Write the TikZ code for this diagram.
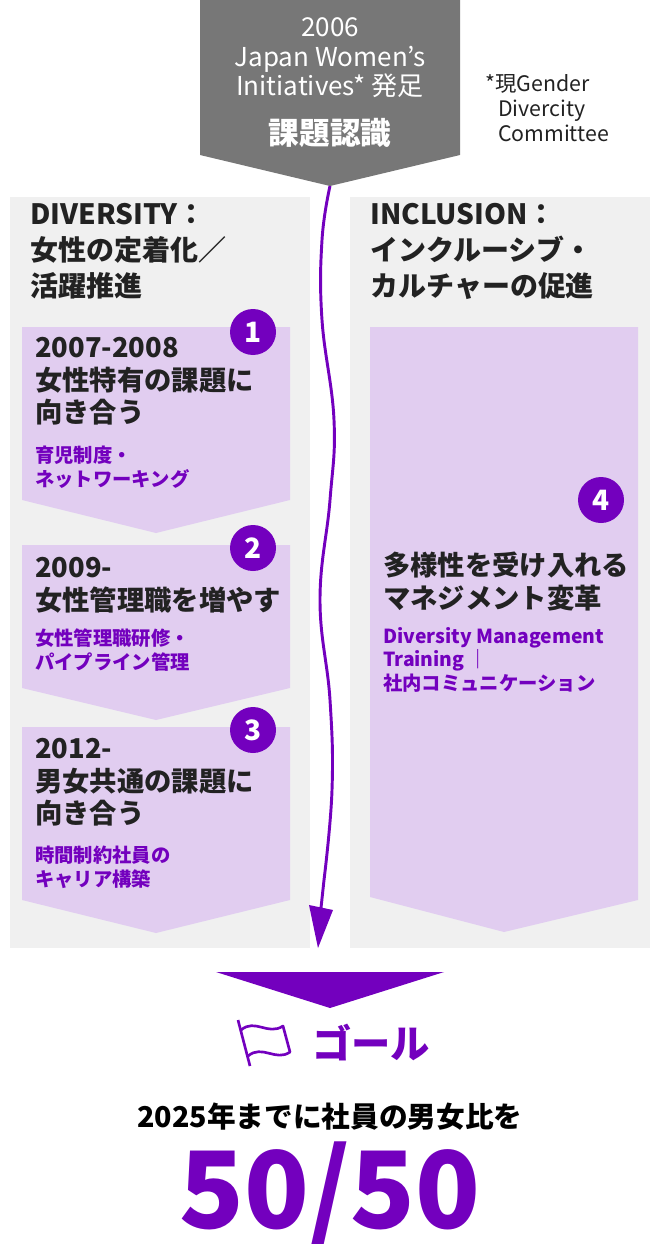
\documentclass[tikz,border=0pt]{standalone}
\usepackage{fontspec}
\setmainfont{Noto Sans CJK JP}
\definecolor{pur}{HTML}{7300BE}
\definecolor{lpur}{HTML}{E1CDF0}
\definecolor{pan}{HTML}{F0F0F0}
\definecolor{gry}{HTML}{777777}
\definecolor{dk}{HTML}{222222}
\tikzset{x=0.75pt,y=-0.75pt,
 head/.style={anchor=north west,align=left,font=\fontsize{21}{27}\selectfont\bfseries,text=dk,inner sep=0pt},
 btitle/.style={anchor=north west,align=left,font=\fontsize{20.5}{24.5}\selectfont\bfseries,text=dk,inner sep=0pt},
 bsub/.style={anchor=north west,align=left,font=\fontsize{14.5}{17.5}\selectfont\bfseries,text=pur,inner sep=0pt},
 num/.style={circle,fill=pur,text=white,minimum size=34.5pt,inner sep=0pt,font=\fontsize{21}{21}\selectfont\bfseries},
 card/.style={fill=lpur,draw=none}}
\begin{document}
\begin{tikzpicture}
\useasboundingbox (0,0) rectangle (660,1244);
% top
\fill[gry] (200,0) -- (460,0) -- (460,155) -- (330,186) -- (200,155) -- cycle;
\node[align=center,text=white,font=\fontsize{19.5}{22}\selectfont,inner sep=0pt] (top) at (330,58) {2006\\Japan Women\char"27 s\\Initiatives* 発足};
\node[text=white,font=\fontsize{23}{24}\selectfont\bfseries,inner sep=0pt] (kadai) at (330,133) {課題認識};
\node[anchor=north west,align=left,font=\fontsize{16}{19}\selectfont,text=dk,inner sep=0pt] (note) at (485,74) {*現Gender\\\hspace{0.6em}Divercity\\\hspace{0.6em}Committee};
% panels
\fill[pan] (10,197) rectangle (310,948);
\fill[pan] (350,197) rectangle (650,948);
\node[head] (hl) at (30,203) {DIVERSITY：\\女性の定着化／\\活躍推進};
\node[head] (hr) at (370,203) {INCLUSION：\\インクルーシブ・\\カルチャーの促進};
% cards
\fill[card] (22,327) -- (290,327) -- (290,500) -- (156,533) -- (22,500) -- cycle;
\fill[card] (22,545) -- (290,545) -- (290,688) -- (156,720) -- (22,688) -- cycle;
\fill[card] (22,727) -- (290,727) -- (290,900) -- (156,933) -- (22,900) -- cycle;
\fill[card] (370,327) -- (638,327) -- (638,900) -- (504,932) -- (370,897) -- cycle;
\node[num] (n1) at (253,332) {1};
\node[num] (n2) at (253,548) {2};
\node[num] (n3) at (253,730) {3};
\node[num] (n4) at (601,500) {4};
\node[btitle] (t1) at (35,337) {2007-2008\\女性特有の課題に\\向き合う};
\node[bsub] (s1) at (35,446) {育児制度・\\ネットワーキング};
\node[btitle] (t2) at (35,557) {2009-\\女性管理職を増やす};
\node[bsub] (s2) at (35,629) {女性管理職研修・\\パイプライン管理};
\node[btitle] (t3) at (35,738) {2012-\\男女共通の課題に\\向き合う};
\node[bsub] (s3) at (35,846) {時間制約社員の\\キャリア構築};
\node[btitle] (t4) at (383,552) {多様性を受け入れる\\マネジメント変革};
\node[bsub] (s4) at (383,627) {Diversity Management\\Training ｜\\社内コミュニケーション};
% wavy line
\coordinate (w0) at (330,186);
\coordinate (w9) at (318,948);
\draw[pur,line width=2.2pt] plot[smooth,tension=0.7] coordinates {(w0) (322,240) (322,320) (334,420) (330,500) (320,600) (330,700) (332,790) (324,880)};
\fill[pur] (w9) -- (309,905) -- (333,910) -- cycle;
\draw[pur,line width=2.2pt] (324,880) -- (321,908);
% big arrow
\fill[pur] (216,972) -- (444,972) -- (330,1008) -- cycle;
% flag
\draw[pur,line width=2pt,line join=round] (238,1020) -- (250,1066);
\draw[pur,line width=2pt,line join=round] (241,1030) .. controls (255,1018) and (268,1036) .. (283,1026) -- (290,1052) .. controls (276,1062) and (262,1044) .. (248,1056);
\node[text=pur,font=\fontsize{29.5}{30}\selectfont\bfseries,anchor=west,inner sep=0pt] (goal) at (312,1043) {ゴール};
\node[text=black,font=\fontsize{21.5}{22}\selectfont\bfseries,inner sep=0pt] (y2025) at (330,1117) {2025年までに社員の男女比を};
\node[text=pur,font=\fontsize{80}{80}\selectfont\bfseries,inner sep=0pt] (fifty) at (330,1195) {50/50};
\end{tikzpicture}
\end{document}
